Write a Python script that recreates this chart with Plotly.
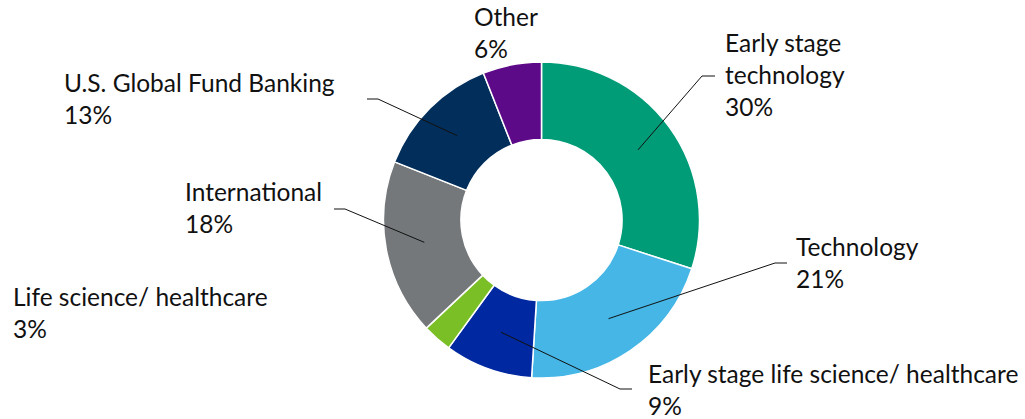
import math
import plotly.graph_objects as go

# ---- data ----
categories = ["Early stage technology", "Technology", "Early stage life science/ healthcare",
              "Life science/ healthcare", "International", "U.S. Global Fund Banking", "Other"]
values = [30, 21, 9, 3, 18, 13, 6]
label_lines = [["Early stage", "technology"], ["Technology"], ["Early stage life science/ healthcare"],
               ["Life science/ healthcare"], ["International"], ["U.S. Global Fund Banking"], ["Other"]]
colors = ["#009B77", "#45B6E6", "#0028A0", "#7BBF26", "#75787B", "#012E5A", "#5C0A87"]

# ---- layout constants (pixels) ----
W, H = 1025, 419
CX, CY, R_OUT = 541.5, 220, 158
HOLE = 0.51
FS = 24.5
# label top-left positions (px)
label_pos = [(723, 26), (794, 230), (646, 357), (11, 280), (183, 175), (62, 66), (472, 0)]
# leader elbow (x, y) and end x of horizontal segment; None = no leader
leaders = [(702, 76, 715), (775, 263, 787), (620, 389, 632), None, (345, 209, 334), (378, 99, 367), None]


def px(x):
    return x / W


def py(y):
    return 1 - y / H


fig = go.Figure()
fig.add_trace(go.Pie(
    labels=categories, values=values, sort=False, direction="clockwise", rotation=0,
    hole=HOLE, marker=dict(colors=colors, line=dict(color="white", width=1.5)),
    textinfo="none", hoverinfo="label+percent", showlegend=False,
    domain=dict(x=[px(CX - R_OUT), px(CX + R_OUT)], y=[py(CY + R_OUT), py(CY - R_OUT)]),
))

total = sum(values)
r_mid = R_OUT * (1 + HOLE) / 2
cum = 0
shapes = []
annotations = []
for i, v in enumerate(values):
    mid = (cum + v / 2) / total * 2 * math.pi
    cum += v
    sx = CX + r_mid * math.sin(mid)
    sy = CY - r_mid * math.cos(mid)
    pct = round(v / total * 100)
    text = "<br>".join(label_lines[i] + [f"{pct}%"])
    lx, ly = label_pos[i]
    annotations.append(dict(x=px(lx), y=py(ly), xref="paper", yref="paper", text=text,
                            showarrow=False, xanchor="left", yanchor="top", align="left",
                            font=dict(family="Lato", size=FS, color="#111111")))
    if leaders[i] is not None:
        ex, ey, hx = leaders[i]
        path = f"M {px(sx)},{py(sy)} L {px(ex)},{py(ey)} L {px(hx)},{py(ey)}"
        shapes.append(dict(type="path", path=path, xref="paper", yref="paper",
                           line=dict(color="#111111", width=1), layer="above"))

fig.update_layout(width=W, height=H, margin=dict(l=0, r=0, t=0, b=0),
                  paper_bgcolor="white", plot_bgcolor="white",
                  shapes=shapes, annotations=annotations)
fig.write_html("out.html", config={"displayModeBar": False},
               post_script="document.body.style.margin='0';document.body.style.overflow='hidden';")
